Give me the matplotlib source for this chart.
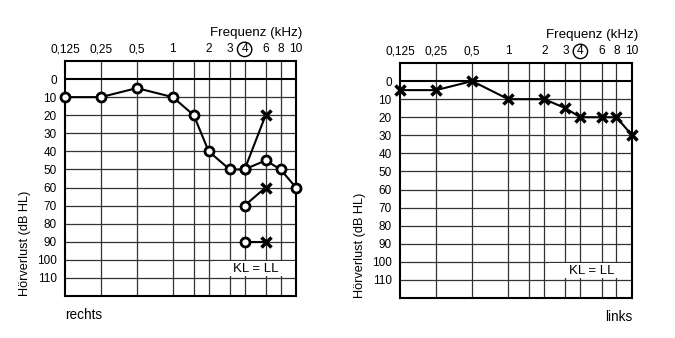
import numpy as np
import matplotlib
matplotlib.use("Agg")
import matplotlib.pyplot as plt
from matplotlib.patches import Rectangle

plt.rcParams['font.family'] = ['Liberation Sans', 'DejaVu Sans']

# audiogram frequencies (kHz) and tick labels
tick_freq = [0.125, 0.25, 0.5, 1, 2, 3, 4, 6, 8, 10]
tick_text = ["0,125", "0,25", "0,5", "1", "2", "3", "4", "6", "8", "10"]
grid_freq = [0.25, 0.5, 1, 1.5, 2, 3, 4, 6, 8]
level_ticks = [0, 10, 20, 30, 40, 50, 60, 70, 80, 90, 100, 110]

# right ear (rechts)
rechts_freq = [0.125, 0.25, 0.5, 1, 1.5, 2, 3, 4, 6, 8, 10]
rechts_db = [10, 10, 5, 10, 20, 40, 50, 50, 45, 50, 60]
# pairs 4 kHz (O) -> 6 kHz (X)
pair_o_freq = 4
pair_x_freq = 6
pair_o_db = [50, 70, 90]
pair_x_db = [20, 60, 90]

# left ear (links)
links_freq = [0.125, 0.25, 0.5, 1, 2, 3, 4, 6, 8, 10]
links_db = [5, 5, 0, 10, 10, 15, 20, 20, 20, 30]

# octaves up to 8 kHz, 8-10 kHz stretched a little
K_TOP = 1.336


def fwd(f):
    l = np.log2(np.clip(f, 1e-6, None))
    return np.where(l <= 3, l + 3, 6 + (l - 3) * K_TOP)


def inv(p):
    p = np.asarray(p, dtype=float)
    return np.where(p <= 6, 2.0 ** (p - 3), 2.0 ** (3 + (p - 6) / K_TOP))


def setup(ax):
    ax.set_xscale('function', functions=(fwd, inv))
    ax.set_xlim(0.125, 10)
    ax.set_ylim(120, -10)
    ax.xaxis.tick_top()
    ax.set_xticks(tick_freq, tick_text)
    ax.set_yticks(level_ticks)
    ax.tick_params(axis='x', length=0, pad=4, labelsize=8.6)
    ax.tick_params(axis='y', length=0, pad=6, labelsize=8.5)
    ax.minorticks_off()
    for f in grid_freq:
        ax.axvline(f, color='#333333', lw=0.9, zorder=1)
    for d in level_ticks[1:]:
        ax.axhline(d, color='#333333', lw=0.9, zorder=1)
    ax.axhline(0, color='black', lw=1.5, zorder=1.2)
    for s in ax.spines.values():
        s.set_linewidth(1.5)
        s.set_zorder(2.5)
    # circle around 4 kHz
    idx = tick_freq.index(4)
    lab = ax.xaxis.get_major_ticks()[idx].label2
    lab.set_bbox(dict(boxstyle='circle,pad=0.1', fc='none', ec='black', lw=1.0))
    ax.text(1.027, 1.12, "Frequenz (kHz)", transform=ax.transAxes,
            ha='right', va='center', fontsize=9.6)
    ax.set_ylabel("Hörverlust (dB HL)", fontsize=9.2, loc='bottom')
    ax.yaxis.set_label_coords(-0.173, 0)
    ax.yaxis.label.set_va('center')
    ax.add_patch(Rectangle((2.2, 100.9), 10 - 2.2, 8.2, fc='white', ec='none', zorder=1.5))
    ax.text(5.0, 105.2, "KL = LL", ha='center', va='center', fontsize=9.5, zorder=3)


line_kw = dict(color='black', lw=1.5, zorder=3, clip_on=False)
o_kw = dict(marker='o', ms=6.5, mew=2.0, mfc='white', mec='black')
x_kw = dict(marker='x', ms=7.5, mew=2.5, mec='black')

fig = plt.figure(figsize=(6.75, 3.38), dpi=100)
ax1 = fig.add_axes([0.0963, 0.1243, 0.3422, 0.6953])
ax2 = fig.add_axes([0.5926, 0.1183, 0.3437, 0.6953])
setup(ax1)
setup(ax2)

# rechts
for o_db, x_db in zip(pair_o_db, pair_x_db):
    ax1.plot([pair_o_freq, pair_x_freq], [o_db, x_db], **line_kw)
    ax1.plot([pair_x_freq], [x_db], ls='none', **x_kw, zorder=4)
ax1.plot(rechts_freq, rechts_db, **line_kw)
ax1.plot(rechts_freq, rechts_db, ls='none', clip_on=False, zorder=4, **o_kw)
ax1.plot([pair_o_freq] * len(pair_o_db), pair_o_db, ls='none', zorder=4, **o_kw)
ax1.text(0.0, -0.081, "rechts", transform=ax1.transAxes, ha='left', va='center', fontsize=9.8)

# links
ax2.plot(links_freq, links_db, **line_kw)
ax2.plot(links_freq, links_db, ls='none', clip_on=False, zorder=4, **x_kw)
ax2.text(1.0, -0.08, "links", transform=ax2.transAxes, ha='right', va='center', fontsize=9.8)

fig.savefig("out.png", dpi=100)
